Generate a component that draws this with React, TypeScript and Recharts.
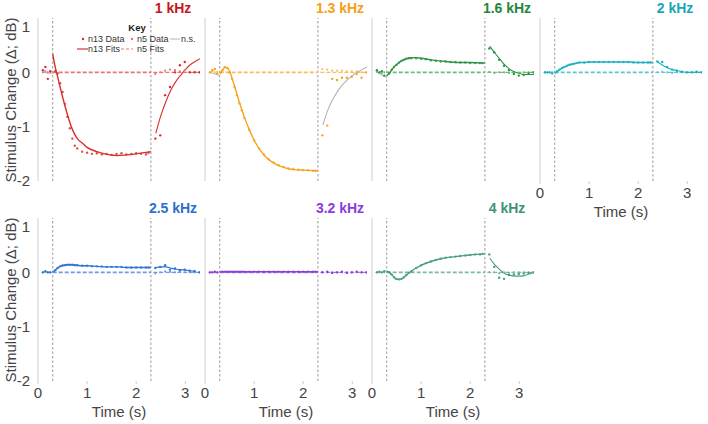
import React from "react";
import { LineChart, Line, XAxis, YAxis, ReferenceLine } from "recharts";

const stimOn = 0.3;
const stimOff = 2.3;

const freqs = ["1 kHz", "1.3 kHz", "1.6 kHz", "2 kHz", "2.5 kHz", "3.2 kHz", "4 kHz"];
const xTicks = [0, 1, 2, 3];
const yTicks = [-2, -1, 0, 1];

// time grids (s)
const fitT = [0.3, 0.35, 0.4, 0.45, 0.5, 0.6, 0.7, 0.8, 0.9, 1.0, 1.2, 1.4, 1.6, 1.8, 2.0, 2.3];
const postT = [2.4, 2.5, 2.6, 2.7, 2.8, 2.9, 3.0, 3.1, 3.2, 3.3];
const preDotT = [0.1, 0.15, 0.2, 0.25];
const stimDotT = [0.35, 0.4, 0.45, 0.5, 0.55, 0.6, 0.65, 0.7, 0.75, 0.8, 0.9, 1.0, 1.1, 1.2, 1.3, 1.4, 1.5, 1.6, 1.7, 1.8, 1.9, 2.0, 2.1, 2.2, 2.25];
const postDotT = [2.39, 2.49, 2.59, 2.69, 2.79, 2.89, 2.99, 3.09, 3.19, 3.29];
const nsPreT = [0.1, 0.3];
const n5StimT = [stimOn, stimOff];
const n5PostT = [2.35, 3.3];

// n13 fits during the stimulus
const n13StimFit = [
  [0.34, 0.1, -0.08, -0.27, -0.45, -0.78, -1.05, -1.22, -1.3, -1.38, -1.46, -1.51, -1.53, -1.52, -1.5, -1.46],
  [-0.03, 0.02, 0.09, 0.09, 0.02, -0.25, -0.55, -0.82, -1.05, -1.25, -1.52, -1.67, -1.75, -1.79, -1.8, -1.81],
  [-0.06, -0.02, 0.04, 0.1, 0.14, 0.21, 0.25, 0.27, 0.27, 0.26, 0.23, 0.21, 0.19, 0.18, 0.18, 0.17],
  [-0.02, 0.02, 0.05, 0.08, 0.1, 0.14, 0.16, 0.18, 0.18, 0.19, 0.19, 0.19, 0.19, 0.19, 0.18, 0.18],
  [0.0, 0.04, 0.08, 0.11, 0.13, 0.14, 0.14, 0.13, 0.12, 0.12, 0.11, 0.1, 0.1, 0.09, 0.09, 0.09],
  [0.01, 0.01, 0.01, 0.01, 0.01, 0.01, 0.01, 0.01, 0.01, 0.01, 0.01, 0.01, 0.01, 0.01, 0.01, 0.01],
  [0.02, 0.0, -0.04, -0.09, -0.13, -0.12, -0.05, 0.02, 0.08, 0.13, 0.2, 0.25, 0.28, 0.3, 0.32, 0.34],
];

// fits after the stimulus (null = none drawn)
const n13PostFit = [
  [-1.12, -0.8, -0.55, -0.34, -0.18, -0.06, 0.05, 0.14, 0.2, 0.25],
  [-0.97, -0.7, -0.5, -0.35, -0.23, -0.14, -0.06, 0.0, 0.05, 0.1],
  [0.48, 0.36, 0.25, 0.14, 0.06, 0.01, -0.02, -0.04, -0.04, -0.04],
  [0.19, 0.13, 0.08, 0.05, 0.03, 0.01, 0.0, 0.0, 0.0, 0.0],
  [0.09, 0.1, 0.1, 0.08, 0.06, 0.05, 0.04, 0.03, 0.02, null],
  null,
  [0.26, 0.14, 0.05, -0.02, -0.05, -0.07, -0.07, -0.06, -0.03, 0.0],
];
const postFitNs = [false, true, false, false, false, false, false];

const nsPre = [[0.0, -0.02], [0.0, -0.06], [0.0, -0.1], null, null, null, null];

const n13PreData = [
  [0.04, 0.1, -0.12, 0.02],
  [0.0, 0.04, 0.06, -0.02],
  [0.04, 0.0, 0.02, -0.06],
  [0.0, 0.0, 0.0, -0.02],
  [0.0, 0.02, 0.0, 0.0],
  [0.0, 0.0, 0.01, 0.0],
  [0.0, 0.01, 0.0, 0.02],
];

const n13StimData = [
  [0.02, -0.02, -0.2, -0.36, -0.58, -0.82, -1.03, -1.22, -1.35, -1.4, -1.46, -1.48, -1.5, -1.49, -1.51, -1.5, -1.52, -1.5, -1.49, -1.51, -1.5, -1.49, -1.5, -1.51, -1.48],
  [0.04, 0.1, 0.08, 0.0, -0.12, -0.27, -0.42, -0.57, -0.7, -0.84, -1.06, -1.25, -1.4, -1.51, -1.6, -1.66, -1.71, -1.74, -1.77, -1.78, -1.79, -1.8, -1.8, -1.81, -1.81],
  [-0.02, 0.05, 0.1, 0.14, 0.18, 0.21, 0.23, 0.25, 0.26, 0.26, 0.26, 0.25, 0.24, 0.22, 0.21, 0.2, 0.2, 0.19, 0.19, 0.18, 0.18, 0.17, 0.17, 0.17, 0.17],
  [0.02, 0.05, 0.08, 0.1, 0.12, 0.14, 0.15, 0.16, 0.17, 0.18, 0.18, 0.19, 0.19, 0.19, 0.19, 0.19, 0.19, 0.19, 0.19, 0.19, 0.18, 0.18, 0.18, 0.18, 0.18],
  [0.04, 0.08, 0.11, 0.12, 0.13, 0.14, 0.14, 0.14, 0.13, 0.13, 0.12, 0.12, 0.11, 0.11, 0.11, 0.1, 0.1, 0.1, 0.1, 0.09, 0.09, 0.09, 0.09, 0.09, 0.09],
  [0.01, 0.01, 0.01, 0.01, 0.01, 0.01, 0.01, 0.01, 0.01, 0.01, 0.01, 0.01, 0.01, 0.01, 0.01, 0.01, 0.01, 0.01, 0.01, 0.01, 0.01, 0.01, 0.01, 0.01, 0.01],
  [0.0, -0.04, -0.09, -0.12, -0.13, -0.12, -0.09, -0.05, -0.01, 0.02, 0.08, 0.13, 0.17, 0.2, 0.23, 0.25, 0.27, 0.28, 0.29, 0.3, 0.31, 0.32, 0.33, 0.33, 0.34],
];

const n13PostData = [
  [-1.22, -1.16, -0.42, -0.27, 0.0, 0.13, 0.19, 0.0, 0.0, 0.0],
  [-1.16, -0.98, -0.12, -0.14, -0.1, -0.1, -0.08, -0.03, -0.1, 0.0],
  [0.44, 0.37, 0.23, 0.12, 0.04, -0.03, -0.06, -0.05, -0.02, 0.0],
  [0.2, 0.19, 0.1, 0.05, 0.03, 0.01, 0.0, 0.0, 0.01, 0.0],
  [0.08, 0.1, 0.13, 0.05, 0.07, 0.04, 0.05, 0.03, 0.02, 0.0],
  [0.0, 0.01, -0.01, 0.0, 0.01, -0.01, 0.0, 0.01, 0.0, 0.0],
  [0.33, 0.1, -0.1, -0.12, -0.05, -0.04, -0.03, -0.02, -0.01, 0.0],
];

const n5PreData = [
  [0.0, 0.02, 0.0, 0.01],
  [0.0, 0.02, 0.0, 0.01],
  [0.01, 0.0, -0.02, 0.0],
  [0.0, 0.0, 0.0, 0.0],
  [0.0, 0.01, 0.0, 0.0],
  [0.0, 0.0, 0.0, 0.0],
  [0.0, 0.0, 0.0, 0.0],
];

const n5PostData = [
  [-0.03, 0.0, 0.03, 0.05, 0.04, 0.02, 0.04, 0.0, 0.01, 0.0],
  [0.06, 0.05, 0.03, 0.03, 0.03, 0.02, 0.02, 0.02, 0.0, 0.0],
  [0.01, -0.01, 0.0, 0.0, -0.01, -0.02, -0.01, 0.0, 0.0, 0.0],
  [0.0, 0.01, 0.0, -0.01, 0.0, 0.0, 0.0, 0.0, 0.0, 0.0],
  [-0.02, 0.0, 0.02, 0.01, 0.0, 0.02, 0.0, 0.0, 0.0, 0.0],
  [0.0, 0.0, 0.0, 0.0, 0.0, 0.0, 0.0, 0.0, 0.0, 0.0],
  [0.0, 0.0, -0.02, 0.0, -0.01, 0.0, 0.0, 0.0, 0.0, 0.0],
];

const n5StimFit = [0, 0];
const n5PostFit = [0, 0];

const colors = ["#d7302c", "#f5a41f", "#2e9446", "#1ab0c2", "#2f73d4", "#8b3fe0", "#4a9d86"];
const lightColors = ["#e57774", "#f7bf5c", "#6cbb7f", "#5cc8d5", "#6f9de2", "#ab77e8", "#7bbaa8"];
const titleColors = ["#c8161d", "#f5a01a", "#22883a", "#17a7b8", "#2a6fd1", "#8a3ce0", "#3f927b"];

const FONT = "'Liberation Sans', Arial, sans-serif";
const PLOT_W = 162;
const PLOT_H = 163;
const AXIS_W = 30;
const AXIS_H = 30;

const panelLeft = [38, 205, 372, 540, 38, 205, 372];
const panelTop = [18, 18, 18, 18, 218, 218, 218];
const showX = [false, false, false, true, true, true, true];
const showY = [true, false, false, false, true, false, false];

const pts = (ts: number[], vs: (number | null)[]) => ts.map((t, i) => ({ t, v: vs[i] }));

const Panel = ({ i }: { i: number }) => {
  const c = colors[i];
  const lc = lightColors[i];
  const post = n13PostFit[i];
  const ns = nsPre[i];
  const tickStyle = { fill: "#444", fontSize: 15, fontFamily: FONT };
  return (
    <div style={{ position: "absolute", left: panelLeft[i] - AXIS_W, top: panelTop[i] }}>
      <LineChart width={PLOT_W + AXIS_W} height={PLOT_H + AXIS_H} margin={{ top: 0, right: 0, bottom: 0, left: 0 }}>
        <XAxis
          type="number"
          dataKey="t"
          domain={[0, 3.3]}
          ticks={xTicks}
          height={AXIS_H}
          axisLine={false}
          tickLine={{ stroke: "#ccc" }}
          tickSize={3}
          tickMargin={3}
          tick={showX[i] ? tickStyle : false}
          allowDataOverflow
        />
        <YAxis
          type="number"
          dataKey="v"
          domain={[-2, 1]}
          ticks={yTicks}
          width={AXIS_W}
          axisLine={{ stroke: "#cfcfcf" }}
          tickLine={false}
          tickSize={4}
          tickMargin={4}
          tick={showY[i] ? tickStyle : false}
          allowDataOverflow
        />
        <ReferenceLine x={stimOn} stroke="#9a9a9a" strokeDasharray="2.5 2" />
        <ReferenceLine x={stimOff} stroke="#9a9a9a" strokeDasharray="2.5 2" />

        {ns && (
          <Line data={pts(nsPreT, ns)} dataKey="v" stroke="#b5b5b5" strokeWidth={1} dot={false} isAnimationActive={false} />
        )}

        <Line data={pts(n5StimT, n5StimFit)} dataKey="v" stroke={lc} strokeWidth={1.6} strokeDasharray="4 2" dot={false} isAnimationActive={false} />
        <Line data={pts(n5PostT, n5PostFit)} dataKey="v" stroke={lc} strokeWidth={1.1} strokeDasharray="4 2" dot={false} isAnimationActive={false} />

        <Line data={pts(preDotT, n5PreData[i])} dataKey="v" stroke="none" dot={{ r: 1.1, fill: lc, stroke: "none" }} activeDot={false} isAnimationActive={false} />
        <Line data={pts(postDotT, n5PostData[i])} dataKey="v" stroke="none" dot={{ r: 1.1, fill: lc, stroke: "none" }} activeDot={false} isAnimationActive={false} />

        <Line data={pts(fitT, n13StimFit[i])} type="monotone" dataKey="v" stroke={c} strokeWidth={1.4} dot={false} isAnimationActive={false} />
        {post && (
          <Line
            data={pts(postT, post)}
            type="monotone"
            dataKey="v"
            stroke={postFitNs[i] ? "#b5b5b5" : c}
            strokeWidth={1.1}
            dot={false}
            isAnimationActive={false}
          />
        )}

        <Line data={pts(preDotT, n13PreData[i])} dataKey="v" stroke="none" dot={{ r: 1.2, fill: c, stroke: "none" }} activeDot={false} isAnimationActive={false} />
        <Line data={pts(stimDotT, n13StimData[i])} dataKey="v" stroke="none" dot={{ r: 1.2, fill: c, stroke: "none", opacity: 0.85 }} activeDot={false} isAnimationActive={false} />
        <Line data={pts(postDotT, n13PostData[i])} dataKey="v" stroke="none" dot={{ r: 1.2, fill: c, stroke: "none" }} activeDot={false} isAnimationActive={false} />
      </LineChart>
    </div>
  );
};

const App = () => {
  const red = colors[0];
  const pink = lightColors[0];
  const keyText = { fontSize: 9, fill: "#333", fontFamily: FONT };
  return (
    <div style={{ position: "absolute", left: 0, top: 0, width: 708, height: 424, background: "#fff", fontFamily: FONT }}>
      {freqs.map((_, i) => (
        <Panel key={i} i={i} />
      ))}
      <svg width={708} height={424} style={{ position: "absolute", left: 0, top: 0, pointerEvents: "none" }}>
        {freqs.map((f, i) => (
          <text
            key={f}
            x={panelLeft[i] + 135}
            y={panelTop[i] - 5}
            textAnchor="middle"
            fontSize={14}
            fontWeight="bold"
            fill={titleColors[i]}
            fontFamily={FONT}
          >
            {f}
          </text>
        ))}
        {[100, 300].map((cy) => (
          <text
            key={cy}
            transform={`translate(16 ${cy}) rotate(-90)`}
            textAnchor="middle"
            fontSize={15}
            fill="#444"
            fontFamily={FONT}
          >
            Stimulus Change (Δ; dB)
          </text>
        ))}
        {[3, 4, 5, 6].map((i) => (
          <text
            key={i}
            x={panelLeft[i] + 81}
            y={panelTop[i] + PLOT_H + 36}
            textAnchor="middle"
            fontSize={15}
            fill="#444"
            fontFamily={FONT}
          >
            Time (s)
          </text>
        ))}

        {/* key */}
        <text x={137} y={31} textAnchor="middle" fontSize={9.5} fontWeight="bold" fill="#222" fontFamily={FONT}>
          Key
        </text>
        <circle cx={83} cy={39} r={1.2} fill={red} />
        <text x={88} y={42} {...keyText}>n13 Data</text>
        <circle cx={132} cy={39} r={1.2} fill={pink} />
        <text x={137} y={42} {...keyText}>n5 Data</text>
        <line x1={170} x2={180} y1={39} y2={39} stroke="#b5b5b5" strokeWidth={1} />
        <text x={181} y={42} {...keyText}>n.s.</text>
        <line x1={77} x2={88} y1={49} y2={49} stroke={red} strokeWidth={1.2} />
        <text x={88} y={52} {...keyText}>n13 Fits</text>
        <line x1={121} x2={133} y1={49} y2={49} stroke={pink} strokeWidth={1.2} strokeDasharray="3 2" />
        <text x={137} y={52} {...keyText}>n5 Fits</text>
      </svg>
    </div>
  );
};

export default App;
